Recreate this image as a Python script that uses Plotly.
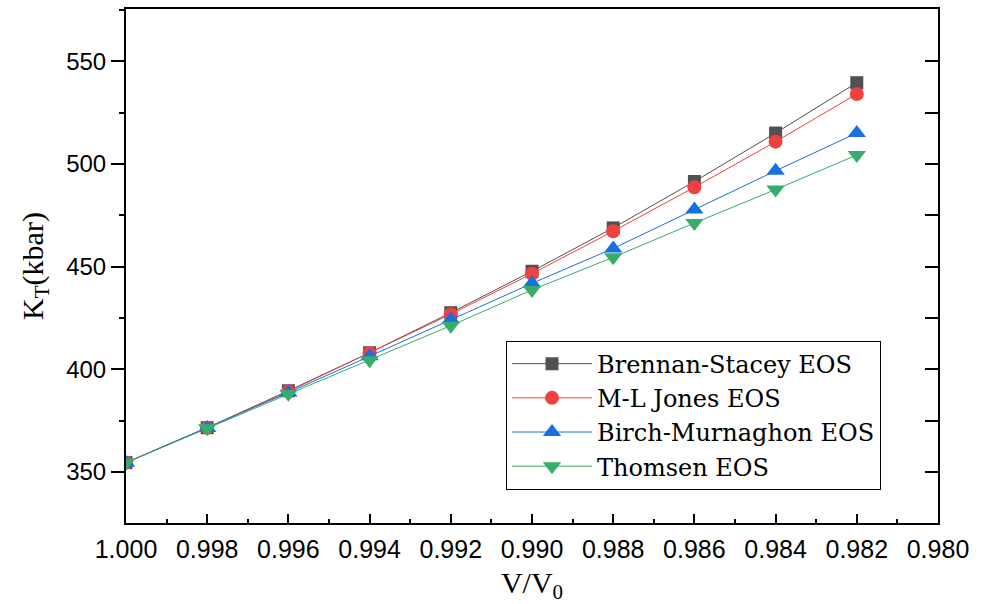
import plotly.graph_objects as go

v_ratio = [1.000, 0.998, 0.996, 0.994, 0.992, 0.990, 0.988, 0.986, 0.984, 0.982]
brennan_stacey = [354.5, 371.5, 389.5, 408.0, 427.5, 447.7, 468.8, 491.4, 515.0, 539.5]
ml_jones = [354.5, 371.5, 389.2, 407.8, 426.8, 446.5, 467.2, 488.6, 510.8, 534.0]
birch_murnaghan = [354.5, 371.4, 388.6, 406.3, 424.2, 441.8, 458.8, 477.8, 496.6, 515.0]
thomsen = [354.5, 371.2, 388.0, 404.4, 421.2, 438.6, 454.5, 471.2, 487.5, 504.3]

x_ticks = [1.000, 0.998, 0.996, 0.994, 0.992, 0.990, 0.988, 0.986, 0.984, 0.982, 0.980]
y_ticks = [350, 400, 450, 500, 550]

series = [
    ("Brennan-Stacey EOS", brennan_stacey, "#515151", "square", 13),
    ("M-L Jones EOS", ml_jones, "#F14040", "circle", 14),
    ("Birch-Murnaghon EOS", birch_murnaghan, "#1A6FDF", "triangle-up", 16),
    ("Thomsen EOS", thomsen, "#37AD6B", "triangle-down", 16),
]

fig = go.Figure()
for name, ys, col, sym, sz in series:
    fig.add_trace(go.Scatter(
        x=v_ratio, y=ys, name=name, mode="lines+markers",
        line=dict(color=col, width=1),
        marker=dict(symbol=sym, size=sz, color=col, line=dict(width=0)),
    ))

# invisible trace to carry the right-hand axis
fig.add_trace(go.Scatter(x=v_ratio, y=brennan_stacey, yaxis="y2", mode="lines",
                         line=dict(width=0), opacity=0, showlegend=False, hoverinfo="skip"))

yr = [325.1, 575.4]
fig.update_layout(
    width=989, height=604,
    margin=dict(l=126, r=51, t=7, b=81),
    paper_bgcolor="white", plot_bgcolor="white",
    showlegend=True,
    legend=dict(
        x=0.468, y=0.355, xanchor="left", yanchor="top",
        bordercolor="black", borderwidth=1, bgcolor="white",
        font=dict(family="DejaVu Serif", size=24, color="black"),
        itemwidth=80, tracegroupgap=0,
    ),
    xaxis=dict(
        range=[1.000, 0.980], tickvals=x_ticks, tickformat=".3f",
        ticks="inside", ticklen=9, tickwidth=2, tickcolor="black",
        minor=dict(ticks="inside", ticklen=4, tickwidth=2, tickcolor="black", dtick=0.001, tick0=1.0),
        showline=True, linewidth=2, linecolor="black", mirror=True,
        showgrid=False, zeroline=False,
        tickfont=dict(family="Liberation Sans", size=25, color="black"),
        ticklabelstandoff=3,
        title=dict(text="V/V<sub>0</sub>", font=dict(family="Liberation Serif", size=30, color="black"), standoff=12),
    ),
    yaxis=dict(
        range=yr, tickvals=y_ticks,
        ticks="outside", ticklen=13, tickwidth=2, tickcolor="black",
        minor=dict(ticks="outside", ticklen=5, tickwidth=2, tickcolor="black", dtick=25, tick0=350),
        showline=True, linewidth=2, linecolor="black", mirror=False,
        showgrid=False, zeroline=False,
        tickfont=dict(family="Liberation Sans", size=24, color="black"),
        title=dict(text="K<sub>T</sub>(kbar)", font=dict(family="Liberation Serif", size=30, color="black"), standoff=14),
    ),
    yaxis2=dict(
        range=yr, overlaying="y", side="right", tickvals=y_ticks,
        ticks="inside", ticklen=6, tickwidth=2, tickcolor="black",
        minor=dict(ticks="inside", ticklen=13, tickwidth=2, tickcolor="black", dtick=25, tick0=350),
        showticklabels=False, showline=True, linewidth=2, linecolor="black",
        showgrid=False, zeroline=False,
    ),
)

fig.write_html("out.html")
